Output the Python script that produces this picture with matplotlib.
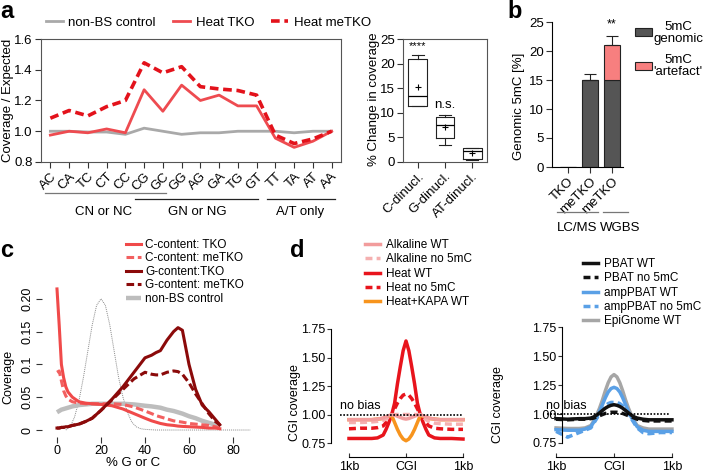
import numpy as np
import matplotlib
matplotlib.use('agg')
import matplotlib.pyplot as plt
from matplotlib.lines import Line2D
from matplotlib.patches import Rectangle

plt.rcParams['font.family'] = ['Liberation Sans', 'DejaVu Sans']
plt.rcParams['axes.linewidth'] = 0.8

W, H = 708, 473

# ---- panel a: coverage per dinucleotide
dinuc = ['AC', 'CA', 'TC', 'CT', 'CC', 'CG', 'GC', 'GG', 'AG', 'GA', 'TG', 'GT', 'TT', 'TA', 'AT', 'AA']
nonbs_a = [1.0, 1.0, 0.995, 0.995, 0.98, 1.02, 1.0, 0.98, 0.99, 0.99, 1.0, 1.0, 1.0, 0.99, 1.0, 1.0]
heat_tko = [0.975, 1.0, 0.99, 1.015, 0.99, 1.27, 1.13, 1.30, 1.20, 1.235, 1.165, 1.165, 0.955, 0.895, 0.935, 1.0]
heat_metko = [1.085, 1.135, 1.10, 1.16, 1.20, 1.445, 1.38, 1.42, 1.29, 1.275, 1.265, 1.235, 0.975, 0.92, 0.95, 1.0]
groups_a = ['CN or NC', 'GN or NG', 'A/T only']

# ---- panel a inset: % change boxplot
box_names = ['C-dinucl.', 'G-dinucl.', 'AT-dinucl.']
box_min = [11.3, 3.4, 0.4]
box_q1 = [11.4, 4.8, 0.6]
box_med = [13.4, 7.5, 2.3]
box_q3 = [21.0, 9.1, 2.8]
box_max = [21.8, 9.5, 2.9]
box_mean = [15.2, 7.1, 1.9]
box_sig = ['****', 'n.s.', '']

# ---- panel b: genomic 5mC
bar_names = ['TKO', 'meTKO', 'meTKO']
genomic = [0.0, 15.0, 15.0]
artefact = [0.0, 0.0, 6.1]
bar_err = [0.0, 1.0, 1.5]

# ---- panel c: coverage vs G/C content
gc_x = [0, 1, 2, 3, 4, 5, 7, 10, 13, 16, 20, 25, 30, 35, 40, 43, 45, 47, 50, 53, 55, 57, 60, 63, 66, 69, 72, 74]
c_tko = [0.215, 0.16, 0.10, 0.08, 0.066, 0.058, 0.05, 0.043, 0.041, 0.040, 0.039, 0.037, 0.032, 0.025, 0.018,
         0.014, 0.012, 0.010, 0.008, 0.007, 0.006, 0.0055, 0.005, 0.0045, 0.004, 0.003, 0.003, 0.002]
c_metko = [0.088, 0.09, 0.075, 0.06, 0.052, 0.047, 0.043, 0.041, 0.040, 0.040, 0.040, 0.040, 0.039, 0.035, 0.029,
           0.025, 0.022, 0.020, 0.017, 0.014, 0.013, 0.012, 0.010, 0.009, 0.008, 0.007, 0.005, 0.004]
g_tko = [0.003, 0.003, 0.004, 0.004, 0.005, 0.005, 0.007, 0.009, 0.013, 0.018, 0.030, 0.047, 0.066, 0.088, 0.110,
         0.114, 0.118, 0.121, 0.137, 0.150, 0.156, 0.152, 0.100, 0.062, 0.038, 0.028, 0.016, 0.008]
g_metko = [0.003, 0.003, 0.004, 0.004, 0.005, 0.005, 0.007, 0.009, 0.013, 0.018, 0.030, 0.046, 0.062, 0.078, 0.088,
           0.085, 0.084, 0.084, 0.088, 0.090, 0.089, 0.085, 0.072, 0.055, 0.040, 0.025, 0.013, 0.008]
nonbs_c = [0.027, 0.029, 0.031, 0.032, 0.033, 0.034, 0.036, 0.038, 0.039, 0.040, 0.040, 0.040, 0.040, 0.039, 0.037,
           0.036, 0.035, 0.034, 0.031, 0.029, 0.027, 0.025, 0.021, 0.018, 0.014, 0.011, 0.008, 0.006]
exp_x = [4, 6, 8, 10, 12, 14, 16, 18, 20, 22, 24, 26, 28, 30, 32, 34, 36, 38, 40, 45, 88]
exp_y = [0.0, 0.005, 0.02, 0.045, 0.08, 0.12, 0.16, 0.19, 0.2, 0.19, 0.16, 0.12, 0.08, 0.05, 0.027, 0.012,
         0.005, 0.002, 0.001, 0.0, 0.0]

# ---- panel d: CGI profiles
cgi_x = [-1, -0.8, -0.6, -0.5, -0.4, -0.35, -0.3, -0.25, -0.2, -0.15, -0.1, -0.05, 0,
         0.05, 0.1, 0.15, 0.2, 0.25, 0.3, 0.35, 0.4, 0.5, 0.6, 0.8, 1]
heat_wt = [0.79, 0.79, 0.79, 0.795, 0.82, 0.87, 0.93, 1.00, 1.10, 1.27, 1.42, 1.56, 1.645,
           1.56, 1.42, 1.27, 1.10, 1.00, 0.93, 0.87, 0.82, 0.795, 0.79, 0.79, 0.785]
heat_no5mc = [0.875, 0.88, 0.88, 0.885, 0.90, 0.93, 0.96, 1.0, 1.05, 1.10, 1.14, 1.17, 1.18,
              1.17, 1.14, 1.10, 1.05, 1.0, 0.96, 0.93, 0.90, 0.88, 0.875, 0.87, 0.87]
alk_wt = [0.955, 0.955, 0.955, 0.96, 0.97, 0.98, 0.99, 1.0, 0.995, 0.985, 0.975, 0.965, 0.96,
          0.965, 0.975, 0.985, 0.995, 1.0, 0.99, 0.98, 0.97, 0.96, 0.955, 0.955, 0.955]
alk_no5mc = [0.93, 0.93, 0.935, 0.94, 0.95, 0.96, 0.98, 0.995, 1.0, 1.0, 1.0, 1.0, 1.0,
             1.0, 1.0, 1.0, 1.0, 0.995, 0.975, 0.955, 0.94, 0.925, 0.92, 0.915, 0.915]
kapa_wt = [0.955, 0.955, 0.955, 0.96, 0.965, 0.975, 0.985, 0.99, 0.93, 0.87, 0.82, 0.785, 0.77,
           0.785, 0.82, 0.87, 0.93, 0.99, 0.985, 0.975, 0.965, 0.96, 0.955, 0.955, 0.955]
pbat_wt = [0.96, 0.955, 0.96, 0.96, 0.965, 0.975, 0.99, 1.01, 1.03, 1.05, 1.065, 1.075, 1.08,
           1.075, 1.065, 1.05, 1.03, 1.01, 0.99, 0.975, 0.965, 0.955, 0.95, 0.95, 0.95]
pbat_no5mc = [0.955, 0.95, 0.955, 0.955, 0.96, 0.965, 0.975, 0.985, 0.995, 1.005, 1.01, 1.015, 1.015,
              1.015, 1.01, 1.005, 0.995, 0.985, 0.975, 0.965, 0.955, 0.945, 0.94, 0.94, 0.94]
amp_wt = [0.865, 0.86, 0.86, 0.87, 0.89, 0.93, 0.97, 1.02, 1.08, 1.14, 1.19, 1.22, 1.23,
          1.22, 1.19, 1.14, 1.08, 1.02, 0.97, 0.93, 0.89, 0.86, 0.85, 0.85, 0.85]
amp_no5mc = [0.85, 0.80, 0.84, 0.86, 0.88, 0.92, 0.96, 1.0, 1.04, 1.07, 1.09, 1.10, 1.10,
             1.10, 1.09, 1.07, 1.04, 1.0, 0.96, 0.92, 0.88, 0.84, 0.83, 0.84, 0.84]
epi_wt = [0.88, 0.875, 0.875, 0.88, 0.90, 0.94, 0.99, 1.05, 1.12, 1.20, 1.27, 1.32, 1.34,
          1.32, 1.27, 1.20, 1.12, 1.05, 0.99, 0.94, 0.90, 0.88, 0.87, 0.87, 0.87]


def fx(x):
    return x / W


def fy(y):
    return 1 - y / H


def box(l, t, r, b):
    return [fx(l), fy(b), (r - l) / W, (b - t) / H]


def hline(x0, x1, y, color='#777777'):
    fig.add_artist(Line2D([fx(x0), fx(x1)], [fy(y), fy(y)], color=color, lw=0.9, transform=fig.transFigure))


def ticks(ax, size):
    ax.tick_params(direction='out', length=4, width=0.8, labelsize=size, pad=2, color='#333333')


fig = plt.figure(figsize=(W / 100, H / 100), dpi=100)

# ================= panel a
ax = fig.add_axes(box(41, 39, 341, 162))
x = np.arange(len(dinuc))
ax.plot(x, nonbs_a, color='#a9a9a9', lw=2, label='non-BS control')
ax.plot(x, heat_tko, color='#ee4b50', lw=2, label='Heat TKO')
ax.plot(x, heat_metko, color='#e3121b', lw=2.6, ls=(0, (2.4, 1.3)), label='Heat meTKO')
ax.set_xlim(-0.5, 15.5)
ax.set_ylim(0.8, 1.6)
ax.set_yticks([0.8, 1.0, 1.2, 1.4, 1.6])
ax.set_yticklabels(['0.8', '1.0', '1.2', '1.4', '1.6'])
ax.set_xticks(x)
ax.set_xticklabels(dinuc, rotation=45, ha='right', rotation_mode='anchor')
ticks(ax, 9.5)
for s in ax.spines.values():
    s.set_color('#555555')
fig.legend(*ax.get_legend_handles_labels(), loc='center left', bbox_to_anchor=(fx(46), fy(23)), ncol=3,
           frameon=False, fontsize=9.5, handlelength=1.3, handletextpad=0.4, columnspacing=1.3,
           borderpad=0, borderaxespad=0)
fig.text(fx(8), fy(100), 'Coverage / Expected', rotation=90, ha='center', va='center', fontsize=9.5)
hline(45, 166, 193)
hline(135, 258, 199, '#222222')
hline(267, 335, 199, '#222222')
for lab, xc in zip(groups_a, [104, 197, 300]):
    fig.text(fx(xc), fy(212), lab, ha='center', va='center', fontsize=9.5)
fig.text(fx(0), fy(18), 'a', fontsize=17, fontweight='bold', va='baseline')

# ================= panel a inset
ax2 = fig.add_axes(box(403, 39, 487, 162))
stats = []
for i, n in enumerate(box_names):
    stats.append(dict(label=n, whislo=box_min[i], q1=box_q1[i], med=box_med[i], q3=box_q3[i],
                      whishi=box_max[i], mean=box_mean[i], fliers=[]))
lp = dict(lw=0.8, color='#222222')
ax2.bxp(stats, positions=[0, 1, 2], widths=0.7, capwidths=0.45, showmeans=True, showfliers=False,
        meanprops=dict(marker='+', markeredgecolor='k', markersize=5, mew=0.8),
        boxprops=lp, whiskerprops=lp, capprops=lp, medianprops=dict(lw=0.9, color='k'))
ax2.set_xlim(-0.55, 2.55)
ax2.set_ylim(0, 25)
ax2.set_yticks([0, 5, 10, 15, 20, 25])
ax2.set_xticklabels(box_names, rotation=45, ha='right', rotation_mode='anchor')
ticks(ax2, 9.5)
for s in ax2.spines.values():
    s.set_color('#555555')
for i, t in enumerate(box_sig):
    ax2.text(i, box_max[i] + 0.8, t, ha='center', va='bottom', fontsize=9.5 if t == 'n.s.' else 8)
fig.text(fx(374), fy(99), '% Change in coverage', rotation=90, ha='center', va='center', fontsize=9.5)

# ================= panel b
ax3 = fig.add_axes(box(552, 22, 623, 167))
xb = np.arange(len(bar_names))
ax3.bar(xb, genomic, width=0.73, color='#555555', edgecolor='#222222', lw=0.8)
ax3.bar(xb, artefact, bottom=genomic, width=0.73, color='#f77f7f', edgecolor='#222222', lw=0.8)
tops = np.array(genomic) + np.array(artefact)
ax3.errorbar(xb[1:], tops[1:], yerr=[np.zeros(2), bar_err[1:]], fmt='none', ecolor='#222222',
             elinewidth=0.8, capsize=4, capthick=0.8)
ax3.text(2, tops[2] + bar_err[2] + 1.0, '**', ha='center', va='bottom', fontsize=9)
ax3.set_xlim(-0.73, 2.5)
ax3.set_ylim(0, 25)
ax3.set_yticks([0, 5, 10, 15, 20, 25])
ax3.set_xticks(xb)
ax3.set_xticklabels(bar_names, rotation=45, ha='right', rotation_mode='anchor')
ticks(ax3, 9.5)
ax3.spines['top'].set_visible(False)
ax3.spines['right'].set_visible(False)
fig.text(fx(519), fy(106), 'Genomic 5mC [%]', rotation=90, ha='center', va='center', fontsize=9.5)
fig.add_artist(Rectangle((fx(635), fy(36)), 17 / W, 8 / H, transform=fig.transFigure,
                         fc='#555555', ec='#222222', lw=0.8))
fig.add_artist(Rectangle((fx(635), fy(70)), 17 / W, 8 / H, transform=fig.transFigure,
                         fc='#f77f7f', ec='#222222', lw=0.8))
fig.text(fx(678), fy(33), '5mC\ngenomic', ha='center', va='center', multialignment='center',
         fontsize=9.5, linespacing=1.0)
fig.text(fx(678), fy(66), "5mC\n'artefact'", ha='center', va='center', multialignment='center',
         fontsize=9.5, linespacing=1.0)
hline(557, 598, 212)
hline(603, 628, 212)
fig.text(fx(577), fy(228), 'LC/MS', ha='center', va='center', fontsize=9.5)
fig.text(fx(620), fy(228), 'WGBS', ha='center', va='center', fontsize=9.5)
fig.text(fx(507), fy(18), 'b', fontsize=17, fontweight='bold', va='baseline')

# ================= panel c
ax4 = fig.add_axes(box(52, 285, 255, 431))
ax4.plot(exp_x, exp_y, color='#8a8a8a', lw=0.7, ls=(0, (1, 1)))
ax4.plot(gc_x, nonbs_c, color='#bdbdbd', lw=3.2, label='non-BS control', solid_capstyle='butt')
ax4.plot(gc_x, c_metko, color='#f26060', lw=2.2, ls=(0, (2.5, 1.2)), label='C-content: meTKO')
ax4.plot(gc_x, c_tko, color='#f04a4a', lw=2.2, label='C-content: TKO')
ax4.plot(gc_x, g_metko, color='#8b0a0a', lw=2.2, ls=(0, (2.5, 1.2)), label='G-content: meTKO')
ax4.plot(gc_x, g_tko, color='#8b0a0a', lw=2.2, label='G-content:TKO')
ax4.set_xlim(-2.27, 90)
ax4.set_ylim(-0.0015, 0.221)
for s in ax4.spines.values():
    s.set_linewidth(0)
ax4.spines['left'].set_position(('outward', 7))
ax4.spines['bottom'].set_position(('outward', 4))
ax4.set_xticks([0, 20, 40, 60, 80])
ax4.set_yticks([0, 0.05, 0.1, 0.15, 0.2])
ax4.set_yticklabels(['0', '0.05', '0.1', '0.15', '0.20'])
ticks(ax4, 9)
ax4.tick_params(axis='y', labelrotation=90)
plt.setp(ax4.get_yticklabels(), va='center')
h, l = ax4.get_legend_handles_labels()
order = [2, 1, 4, 3, 0]
fig.legend([h[i] for i in order], [l[i] for i in order], loc='upper left', bbox_to_anchor=(fx(126), fy(239)),
           frameon=False, fontsize=8.5, handlelength=1.3, handletextpad=0.3, labelspacing=0.12,
           borderpad=0, borderaxespad=0)
fig.text(fx(8), fy(377), 'Coverage', rotation=90, ha='center', va='center', fontsize=9)
fig.text(fx(133), fy(463), '% G or C', ha='center', va='center', fontsize=9.5)
fig.text(fx(0), fy(257), 'c', fontsize=17, fontweight='bold', va='baseline')


# ================= panel d
def cgi_axes(rect, ytop, ybot, spine_x):
    a = fig.add_axes(rect)
    a.set_xlim(-1.07, 1.07)
    a.set_ylim(ybot, ytop)
    a.spines['top'].set_visible(False)
    a.spines['right'].set_visible(False)
    a.spines['left'].set_position(spine_x)
    a.spines['bottom'].set_position(('outward', 8))
    a.spines['left'].set_bounds(0.75, 1.75)
    a.spines['bottom'].set_bounds(-1, 1)
    a.set_yticks([0.75, 1.0, 1.25, 1.5, 1.75])
    a.set_yticklabels(['0.75', '1.00', '1.25', '1.50', '1.75'])
    a.set_xticks([-1, 0, 1])
    a.set_xticklabels(['1kb', 'CGI', '1kb'])
    ticks(a, 9)
    a.tick_params(axis='y', length=3, pad=1)
    a.tick_params(axis='x', direction='in', length=3, pad=3)
    return a


ax5 = cgi_axes(box(345, 325, 467, 446), 1.785, 0.724, ('outward', 10))
ax5.plot(cgi_x, heat_wt, color='#e8141c', lw=2.5, label='Heat WT')
ax5.plot(cgi_x, heat_no5mc, color='#e8141c', lw=2.5, ls=(0, (2, 1.2)), label='Heat no 5mC')
ax5.plot(cgi_x, kapa_wt, color='#f7941d', lw=2.5, label='Heat+KAPA WT')
ax5.plot(cgi_x, alk_no5mc, color='#f5b0b0', lw=2.5, ls=(0, (2, 1.2)), label='Alkaline no 5mC')
ax5.plot(cgi_x, alk_wt, color='#f29c9c', lw=2.5, label='Alkaline WT')
ax5.plot([-1.16, 1.0], [1, 1], color='k', lw=1.2, ls=(0, (1, 1)), clip_on=False)
ax5.text(-1.15, 1.02, 'no bias', fontsize=9, ha='left', va='bottom')
h, l = ax5.get_legend_handles_labels()
order = [4, 3, 0, 1, 2]
fig.legend([h[i] for i in order], [l[i] for i in order], loc='upper left', bbox_to_anchor=(fx(365), fy(239)),
           frameon=False, fontsize=8.5, handlelength=1.3, handletextpad=0.5, labelspacing=0.2,
           borderpad=0, borderaxespad=0)
fig.text(fx(295), fy(403), 'CGI coverage', rotation=90, ha='center', va='center', fontsize=9)
fig.text(fx(290), fy(257), 'd', fontsize=17, fontweight='bold', va='baseline')

ax6 = cgi_axes(box(552, 323, 676, 446), 1.785, 0.724, ('data', -0.897))
ax6.plot(cgi_x, epi_wt, color='#a6a6a6', lw=2.5, label='EpiGnome WT')
ax6.plot(cgi_x, amp_wt, color='#5aa0e6', lw=2.5, label='ampPBAT WT')
ax6.plot(cgi_x, amp_no5mc, color='#5aa0e6', lw=2.5, ls=(0, (2, 1.2)), label='ampPBAT no 5mC')
ax6.plot(cgi_x, pbat_wt, color='#111111', lw=2.5, label='PBAT WT')
ax6.plot(cgi_x, pbat_no5mc, color='#111111', lw=2.5, ls=(0, (2, 1.2)), label='PBAT no 5mC')
ax6.plot([-1.16, 0.97], [1, 1], color='k', lw=1.2, ls=(0, (1, 1)), clip_on=False)
ax6.text(-1.17, 1.02, 'no bias', fontsize=9, ha='left', va='bottom')
h, l = ax6.get_legend_handles_labels()
order = [3, 4, 1, 2, 0]
fig.legend([h[i] for i in order], [l[i] for i in order], loc='upper left', bbox_to_anchor=(fx(583), fy(258)),
           frameon=False, fontsize=8.5, handlelength=1.3, handletextpad=0.5, labelspacing=0.2,
           borderpad=0, borderaxespad=0)
fig.text(fx(498), fy(405), 'CGI coverage', rotation=90, ha='center', va='center', fontsize=9)

plt.savefig('out.png', dpi=100)
plt.close()
